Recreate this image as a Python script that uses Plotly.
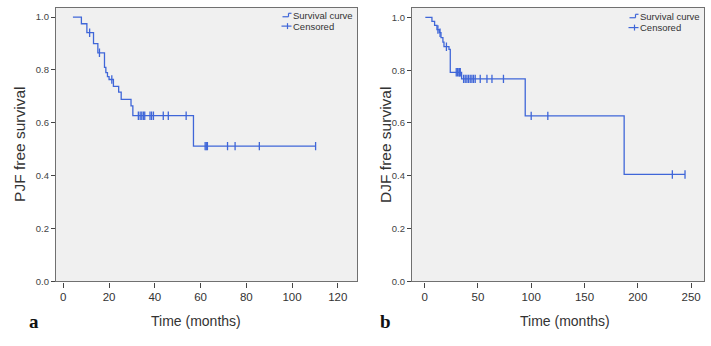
import plotly.graph_objects as go
import numpy as np

# ---------------- data ----------------
# Panel a: PJF free survival (Kaplan-Meier step curve)
a_time = [4.2, 7.9, 10.3, 13.2, 15.1, 18.0, 18.6, 19.3, 20.0, 21.9, 24.2, 25.3, 29.6, 30.4, 56.9, 110.3]
a_surv = [1.0, 0.975, 0.941, 0.900, 0.865, 0.81, 0.79, 0.775, 0.764, 0.738, 0.716, 0.689, 0.664, 0.627, 0.512, 0.512]
a_cens = [11.5, 15.8, 21.2, 32.8, 33.6, 34.3, 35.0, 35.6, 37.9, 38.6, 39.4, 43.7, 45.9, 53.7,
          62.0, 62.5, 63.0, 71.8, 75.1, 85.7, 110.3]

# Panel b: DJF free survival
b_time = [0.7, 6.9, 9.4, 11.6, 13.8, 15.4, 17.2, 18.2, 22.9, 24.1, 34.7, 94.4, 187.2, 244.3]
b_surv = [1.0, 0.985, 0.970, 0.954, 0.942, 0.923, 0.906, 0.889, 0.879, 0.792, 0.767, 0.627, 0.405, 0.405]
b_cens = [12.5, 14.5, 20.5, 29.7, 30.9, 32.2, 32.8, 33.5, 36.6, 38.1, 39.7, 41.2, 42.8, 44.4,
          45.9, 47.5, 52.2, 58.5, 63.2, 74.0, 100.0, 115.6, 232.4, 244.3]

a_xticks = [0, 20, 40, 60, 80, 100, 120]
b_xticks = [0, 50, 100, 150, 200, 250]
y_ticks = [0.0, 0.2, 0.4, 0.6, 0.8, 1.0]

a_ytitle = "PJF free survival"
b_ytitle = "DJF free survival"
x_title = "Time (months)"
legend_labels = ["Survival curve", "Censored"]

# ---------------- style ----------------
W, H = 711, 346
BLUE = "#3f66d8"
FONT = "Liberation Sans"


def px(x):
    return x / W


def py(y):
    return 1 - y / H


def surv_at(times, survs, t):
    idx = np.searchsorted(np.array(times), t, side="right") - 1
    idx = max(idx, 0)
    return survs[idx]


fig = go.Figure()

for (tm, sv, cz, xa, ya) in [(a_time, a_surv, a_cens, "x", "y"), (b_time, b_surv, b_cens, "x2", "y2")]:
    fig.add_trace(go.Scatter(x=tm, y=sv, mode="lines", line=dict(shape="hv", color=BLUE, width=1.3),
                             xaxis=xa, yaxis=ya, showlegend=False, hoverinfo="skip"))
    fig.add_trace(go.Scatter(x=cz, y=[surv_at(tm, sv, c) for c in cz], mode="markers",
                             marker=dict(symbol="line-ns-open", size=6, color=BLUE,
                                         line=dict(color=BLUE, width=1.3)),
                             xaxis=xa, yaxis=ya, showlegend=False, hoverinfo="skip"))

axis_common = dict(showgrid=False, zeroline=False, showline=True, mirror=True, linecolor="#707070",
                   linewidth=1.3, ticks="outside", tickcolor="#444", tickwidth=1.2)

fig.update_layout(
    width=W, height=H,
    margin=dict(l=0, r=0, t=0, b=0),
    paper_bgcolor="white", plot_bgcolor="#f0f0f0",
    showlegend=False,
    xaxis=dict(domain=[px(56), px(357)], range=[-3.2, 128.4], tickvals=a_xticks, ticklen=5,
               tickfont=dict(family=FONT, size=11.5, color="#333"), anchor="y", **axis_common),
    yaxis=dict(domain=[py(285.5), py(8)], range=[0, 1.035], tickvals=y_ticks, tickformat=".1f", ticklen=4,
               tickfont=dict(family=FONT, size=9.5, color="#444"), anchor="x", **axis_common),
    xaxis2=dict(domain=[px(412), px(704)], range=[-11.8, 262.1], tickvals=b_xticks, ticklen=5,
                tickfont=dict(family=FONT, size=11.5, color="#333"), anchor="y2", **axis_common),
    yaxis2=dict(domain=[py(285.5), py(8)], range=[0, 1.036], tickvals=y_ticks, tickformat=".1f", ticklen=4,
                tickfont=dict(family=FONT, size=9.5, color="#444"), anchor="x2", **axis_common),
)

ann = []
# axis titles
ann.append(dict(x=px(20), y=py(147), text=a_ytitle, textangle=-90, showarrow=False, xref="paper", yref="paper",
                font=dict(family=FONT, size=15.5, color="#333"), xanchor="center", yanchor="middle"))
ann.append(dict(x=px(386), y=py(147), text=b_ytitle, textangle=-90, showarrow=False, xref="paper", yref="paper",
                font=dict(family=FONT, size=15.5, color="#333"), xanchor="center", yanchor="middle"))
ann.append(dict(x=px(196), y=py(326), text=x_title, showarrow=False, xref="paper", yref="paper",
                font=dict(family=FONT, size=14, color="#333"), xanchor="center", yanchor="middle"))
ann.append(dict(x=px(565), y=py(326), text=x_title, showarrow=False, xref="paper", yref="paper",
                font=dict(family=FONT, size=14, color="#333"), xanchor="center", yanchor="middle"))
# panel letters
ann.append(dict(x=px(34), y=py(326), text="<b>a</b>", showarrow=False, xref="paper", yref="paper",
                font=dict(family="Liberation Serif", size=19, color="#111"), xanchor="center", yanchor="middle"))
ann.append(dict(x=px(386), y=py(326), text="<b>b</b>", showarrow=False, xref="paper", yref="paper",
                font=dict(family="Liberation Serif", size=19, color="#111"), xanchor="center", yanchor="middle"))

shapes = []
# legends drawn as text + icon
for (tx, y1, y2) in [(290.5, 15.5, 26.5), (637.5, 16.5, 28.0)]:
    ann.append(dict(x=px(tx), y=py(y1), text=legend_labels[0], showarrow=False, xref="paper", yref="paper",
                    font=dict(family=FONT, size=9.5, color="#333"), xanchor="left", yanchor="middle"))
    ann.append(dict(x=px(tx), y=py(y2), text=legend_labels[1], showarrow=False, xref="paper", yref="paper",
                    font=dict(family=FONT, size=9.5, color="#333"), xanchor="left", yanchor="middle"))
    ix = tx - 8
    ln = dict(color=BLUE, width=1.2)
    shapes.append(dict(type="line", xref="paper", yref="paper", x0=px(ix), x1=px(ix + 6),
                       y0=py(y1 + 1.5), y1=py(y1 + 1.5), line=ln))
    shapes.append(dict(type="line", xref="paper", yref="paper", x0=px(ix + 6), x1=px(ix + 6),
                       y0=py(y1 + 1.5), y1=py(y1 - 2), line=ln))
    shapes.append(dict(type="line", xref="paper", yref="paper", x0=px(ix + 6), x1=px(ix + 9),
                       y0=py(y1 - 2), y1=py(y1 - 2), line=ln))
    shapes.append(dict(type="line", xref="paper", yref="paper", x0=px(ix - 1), x1=px(ix + 9),
                       y0=py(y2), y1=py(y2), line=ln))
    shapes.append(dict(type="line", xref="paper", yref="paper", x0=px(ix + 5), x1=px(ix + 5),
                       y0=py(y2 - 3), y1=py(y2 + 3), line=ln))

fig.update_layout(annotations=ann, shapes=shapes)
fig.write_html("out.html")
